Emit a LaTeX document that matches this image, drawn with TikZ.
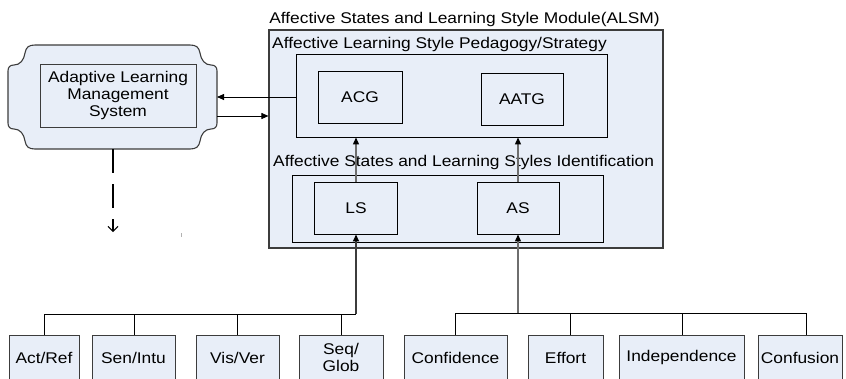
\documentclass[tikz,border=0pt]{standalone}
\usepackage{fontspec}
\setmainfont{Liberation Sans}[FakeStretch=1.12]
\usetikzlibrary{arrows.meta}
\definecolor{bfill}{RGB}{232,238,248}
\definecolor{dgray}{RGB}{60,60,60}
\definecolor{mgray}{RGB}{110,110,110}
\tikzset{
  every node/.style={font=\fontsize{15.5}{17}\selectfont},
  box/.style={draw=black, fill=bfill, line width=0.9pt, inner sep=0pt, align=center},
  lbl/.style={inner sep=0pt, anchor=base west},
  arr/.style={line width=0.8pt, -{Triangle[length=7pt,width=6pt]}},
  garr/.style={mgray, line width=1.2pt, -{Triangle[length=7pt,width=6pt,color=black]}},
  bus/.style={black, line width=0.8pt},
}
\begin{document}
\begin{tikzpicture}[x=1pt,y=-1pt]
\useasboundingbox (0,0) rectangle (846,378);
\clip (0,0) rectangle (846,378);

% ALSM module
\node[box, draw=dgray, line width=1.1pt, minimum width=394pt, minimum height=218pt] (alsm) at (466,139) {};
\node[inner sep=0pt, anchor=base] (title) at (464.5,23) {Affective States and Learning Style Module(ALSM)};
\node[lbl] (pedlbl) at (272,48.5) {Affective Learning Style Pedagogy/Strategy};
\node[box, minimum width=311pt, minimum height=83pt] (ped) at (451.5,95.5) {};
\node[lbl] (idlbl) at (273,166) {Affective States and Learning Styles Identification};
\node[box, minimum width=311pt, minimum height=67pt] (ident) at (447.5,208.5) {};

\node[box, minimum width=84pt, minimum height=52pt] (acg) at (360,97) {ACG};
\node[box, minimum width=82pt, minimum height=52pt] (aatg) at (522,99) {AATG};
\node[box, minimum width=83pt, minimum height=52pt] (ls) at (356,208) {LS};
\node[box, minimum width=82pt, minimum height=52pt] (as) at (518,208) {AS};

\draw[garr] (ls.north) -- (ls.north |- ped.south);
\draw[garr] (as.north) -- (as.north |- ped.south);

% LMS shape
\draw[dgray, fill=bfill, line width=1.1pt]
  (190,45) .. controls (196,45) and (199,47) .. (200,53)
  .. controls (201,60) and (205,65) .. (211,65)
  .. controls (215,65) and (217,67) .. (217,71)
  -- (217,123)
  .. controls (217,127) and (215,129) .. (211,129)
  .. controls (205,129) and (201,134) .. (200,141)
  .. controls (199,147) and (196,149) .. (190,149)
  -- (35,149)
  .. controls (29,149) and (26,147) .. (25,141)
  .. controls (24,134) and (20,129) .. (14,129)
  .. controls (10,129) and (8,127) .. (8,123)
  -- (8,71)
  .. controls (8,67) and (10,65) .. (14,65)
  .. controls (20,65) and (24,60) .. (25,53)
  .. controls (26,47) and (29,45) .. (35,45)
  -- cycle;
\node[box, draw=dgray, minimum width=156pt, minimum height=63pt] (lms) at (118,95.5) {Adaptive Learning\\Management\\System};
\coordinate (a1) at (217,97);
\coordinate (a2) at (217,116);
\draw[arr] (ped.west |- a1) -- (a1);
\draw[arr] (a2) -- (a2 -| alsm.west);

\coordinate (lmsS) at (113,149);
\coordinate (dend) at (113,232);
\draw[black, line width=1.1pt, dash pattern=on 24pt off 11pt, -{Straight Barb[length=5pt,width=10pt,line width=1pt]}] (lmsS) -- (dend);
\coordinate (tk1) at (181,233);
\coordinate (tk2) at (181,237);
\draw[gray!60, line width=0.6pt] (tk1) -- (tk2);

% bottom boxes
\node[box, draw=dgray, minimum width=70pt, minimum height=45pt] (actref) at (44,357.5) {Act/Ref};
\node[box, draw=dgray, minimum width=83pt, minimum height=45pt] (senintu) at (133.5,357.5) {Sen/Intu};
\node[box, draw=dgray, minimum width=83pt, minimum height=45pt] (visver) at (237.5,357.5) {Vis/Ver};
\node[box, draw=dgray, minimum width=84pt, minimum height=45pt] (seqglob) at (341,357.5) {Seq/\\Glob};
\node[box, draw=dgray, minimum width=103pt, minimum height=45pt] (conf) at (455.5,357.5) {Confidence};
\node[box, draw=dgray, minimum width=75pt, minimum height=45pt] (effort) at (565.5,357.5) {Effort};
\node[box, draw=dgray, minimum width=125pt, minimum height=45pt] (indep) at (681.5,357.5) {Independence};
\node[box, draw=dgray, minimum width=84pt, minimum height=45pt] (confu) at (800,357.5) {Confusion};

% left bus
\coordinate (lb1) at (44,314);
\coordinate (lb2) at (134,314);
\coordinate (lb3) at (237,314);
\coordinate (lb4) at (341,314);
\coordinate (lbm) at (356,314);
\draw[bus] (lb1) -- (lbm);
\draw[bus] (lb1) -- (lb1 |- actref.north);
\draw[bus] (lb2) -- (lb2 |- senintu.north);
\draw[bus] (lb3) -- (lb3 |- visver.north);
\draw[bus] (lb4) -- (lb4 |- seqglob.north);
\draw[dgray, line width=1.8pt, -{Triangle[length=7pt,width=6pt,color=black]}] (lbm) -- (lbm |- ls.south);

% right bus
\coordinate (rb1) at (455,313);
\coordinate (rb2) at (570,313);
\coordinate (rb3) at (682,313);
\coordinate (rb4) at (806,313);
\coordinate (rbm) at (518,313);
\draw[bus] (rb1) -- (rb4);
\draw[bus] (rb1) -- (rb1 |- conf.north);
\draw[bus] (rb2) -- (rb2 |- effort.north);
\draw[bus] (rb3) -- (rb3 |- indep.north);
\draw[bus] (rb4) -- (rb4 |- confu.north);
\draw[garr] (rbm) -- (rbm |- as.south);
\end{tikzpicture}
\end{document}
